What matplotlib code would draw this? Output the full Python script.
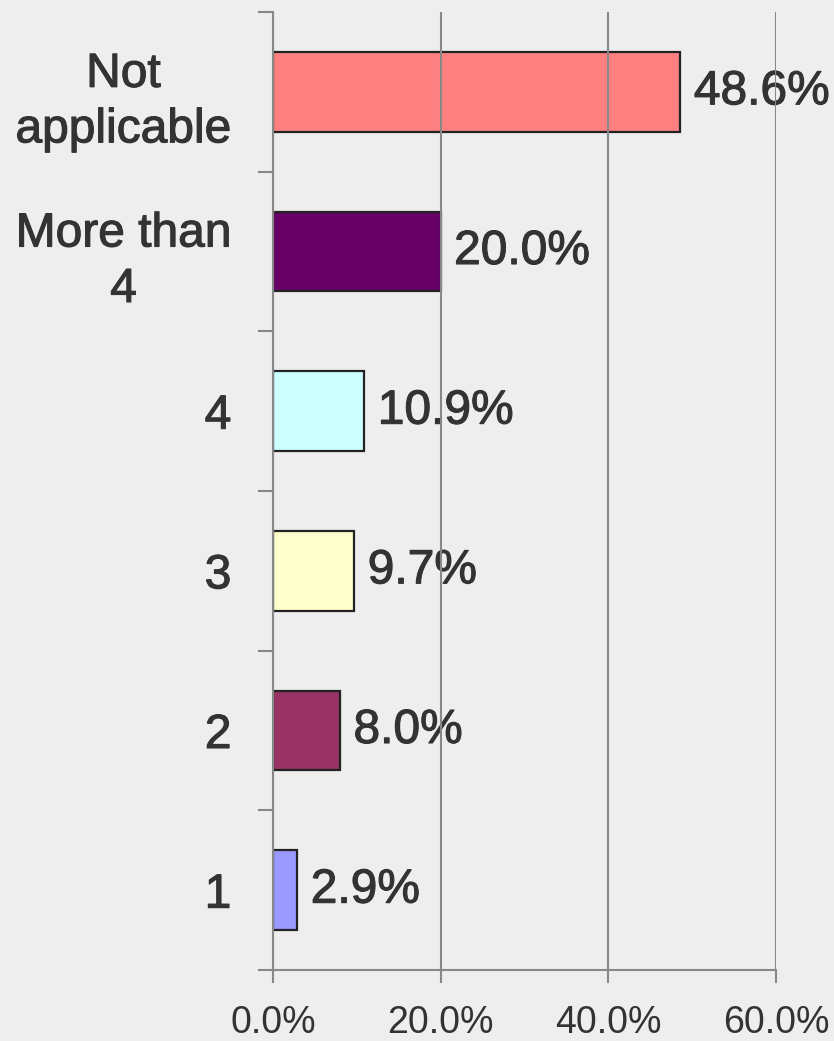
import matplotlib
matplotlib.use("Agg")
import matplotlib.pyplot as plt
import matplotlib.patheffects as pe
import matplotlib.transforms as mtransforms
from matplotlib.ticker import FixedLocator

categories = ["1", "2", "3", "4", "More than\n4", "Not\napplicable"]
values = [2.9, 8.0, 9.7, 10.9, 20.0, 48.6]
colors = ["#9999FF", "#993366", "#FFFFCC", "#CCFFFF", "#660066", "#FF8080"]
xticks = [0, 20, 40, 60]
xtick_labels = ["0.0%", "20.0%", "40.0%", "60.0%"]

plt.rcParams['font.family'] = ['Liberation Sans', 'DejaVu Sans']
bg = "#EEEEEE"
txt = "#333333"
grey = "#888888"
bold_fx = [pe.withStroke(linewidth=0.8, foreground=txt)]

fig = plt.figure(figsize=(8.34, 10.41), dpi=100, facecolor=bg)
ax = fig.add_axes([273/834, 71/1041, 503/834, 958/1041])
ax.set_facecolor(bg)

y = list(range(len(categories)))
ax.barh(y, values, height=0.5, color=colors, edgecolor="#222222", linewidth=1.6, zorder=2)

for yi, v in zip(y, values):
    ax.text(v + 1.6, yi, f"{v:.1f}%", va="center", ha="left", fontsize=34.5,
            color=txt, zorder=1, path_effects=bold_fx)

ax.set_xlim(0, 60)
ax.set_ylim(-0.5, len(categories) - 0.5)

ax.set_xticks(xticks)
ax.set_xticklabels(xtick_labels, fontsize=27, color=txt)
ax.tick_params(axis="x", direction="out", length=9, width=1.5, color=grey, pad=16)

ax.set_yticks(y)
ax.set_yticklabels(categories, fontsize=34.5, color=txt, multialignment="center",
                   linespacing=1.3)
shift = mtransforms.ScaledTranslation(0, 3/72, fig.dpi_scale_trans)
for lbl in ax.get_yticklabels():
    lbl.set_path_effects(bold_fx)
    lbl.set_transform(lbl.get_transform() + shift)
ax.tick_params(axis="y", which="major", length=0, pad=30)
ax.yaxis.set_minor_locator(FixedLocator([i - 0.5 for i in range(len(categories) + 1)]))
ax.tick_params(axis="y", which="minor", direction="out", length=11, width=1.5, color=grey)

ax.grid(axis="x", color=grey, linewidth=1.5, zorder=3)
ax.set_axisbelow(False)
for s in ["top", "right"]:
    ax.spines[s].set_visible(False)
for s in ["left", "bottom"]:
    ax.spines[s].set_color(grey)
    ax.spines[s].set_linewidth(1.5)

fig.savefig("out.png", dpi=100, facecolor=bg)
